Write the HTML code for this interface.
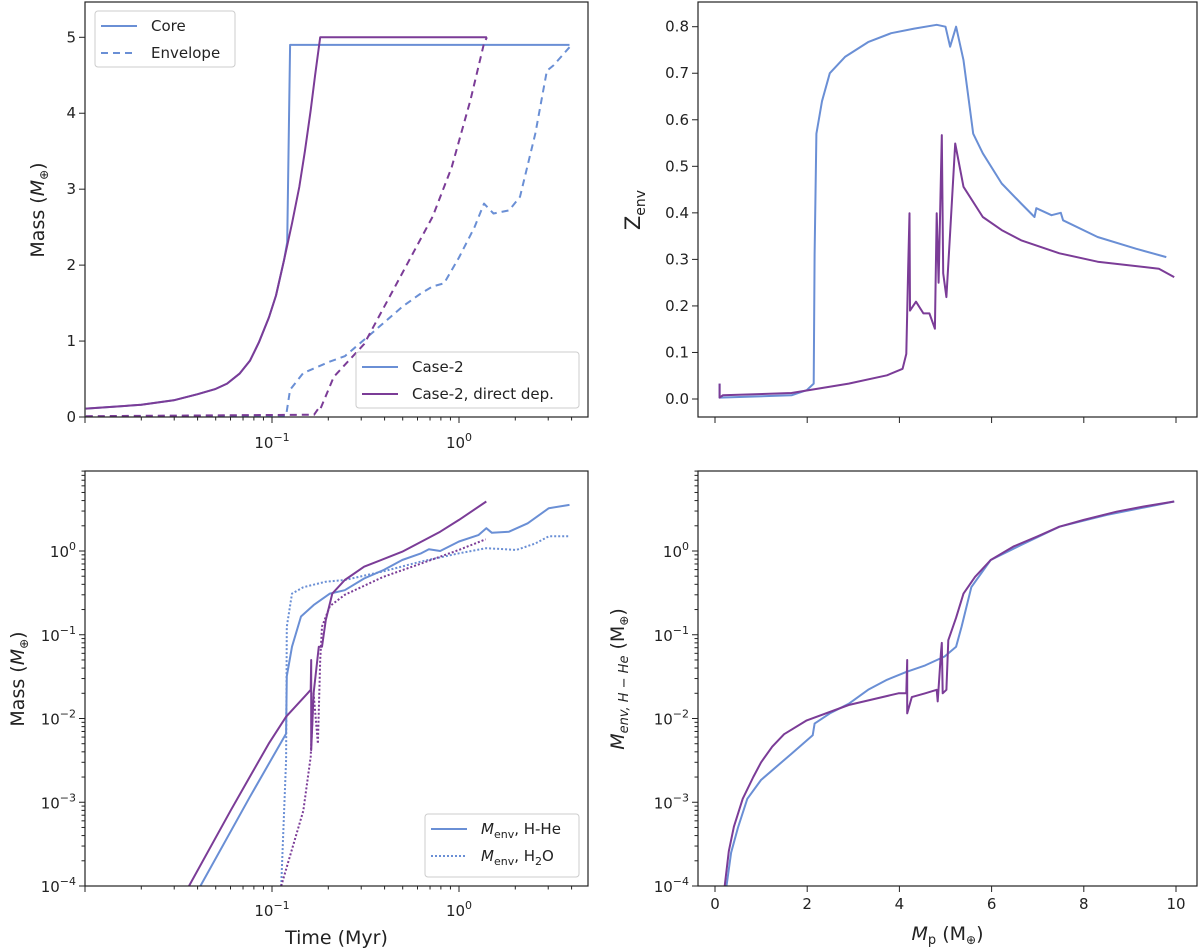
<!DOCTYPE html>
<html><head><meta charset="utf-8"><style>
body{margin:0;background:#fff}
svg{display:block;font-family:"DejaVu Sans","Liberation Sans",sans-serif}
</style></head><body>
<svg id="fig" width="1200" height="951" viewBox="0 0 1200 951" xmlns="http://www.w3.org/2000/svg"></svg>
<script>
// ---- data ----
const coreC2T=[0.0101,0.02,0.0298,0.04,0.05,0.0575,0.067,0.0762,0.085,0.0963,0.105,0.116,0.1206,0.125,3.9];
const coreC2M=[0.11,0.16,0.22,0.30,0.37,0.44,0.57,0.74,0.98,1.31,1.6,2.07,2.3,4.9,4.9];
const coreDDT=[0.0101,0.02,0.0298,0.04,0.05,0.0575,0.067,0.0762,0.085,0.0963,0.105,0.116,0.128,0.140,0.15,0.161,0.17,0.181,1.41];
const coreDDM=[0.11,0.16,0.22,0.30,0.37,0.44,0.57,0.74,0.98,1.31,1.6,2.07,2.55,3.03,3.5,4.04,4.5,5.0,5.0];
const envC2T=[0.0101,0.119,0.125,0.147,0.204,0.245,0.326,0.496,0.628,0.723,0.832,1.0,1.21,1.36,1.53,1.85,2.12,2.56,2.95,3.2,3.9];
const envC2M=[0,0.02,0.36,0.58,0.73,0.8,1.06,1.45,1.63,1.72,1.76,2.1,2.5,2.81,2.68,2.72,2.9,3.73,4.56,4.63,4.87];
const envDDT=[0.0101,0.168,0.178,0.181,0.214,0.311,0.496,0.723,0.914,1.15,1.36,1.41];
const envDDM=[0.01,0.03,0.12,0.1,0.53,0.96,1.89,2.64,3.29,4.17,4.92,5.0];

const zC2X=[0.1,0.1,1.66,1.99,2.14,2.16,2.2,2.32,2.49,2.82,3.32,3.82,4.32,4.81,5.0,5.1,5.23,5.39,5.6,5.81,6.22,6.64,6.93,6.97,7.3,7.5,7.55,8.3,9.13,9.79];
const zC2Y=[0.033,0.003,0.008,0.019,0.033,0.31,0.57,0.64,0.70,0.735,0.767,0.786,0.796,0.804,0.80,0.757,0.80,0.728,0.57,0.528,0.463,0.42,0.391,0.41,0.395,0.40,0.384,0.348,0.323,0.305];
const zDDX=[0.1,0.1,0.17,1.66,2.9,3.73,4.07,4.15,4.19,4.22,4.23,4.36,4.52,4.65,4.77,4.81,4.85,4.92,4.95,5.02,5.1,5.21,5.39,5.81,6.22,6.64,7.47,8.3,9.63,9.96];
const zDDY=[0.033,0.003,0.008,0.013,0.033,0.051,0.065,0.097,0.284,0.399,0.19,0.209,0.184,0.184,0.151,0.399,0.25,0.567,0.27,0.219,0.356,0.549,0.456,0.391,0.363,0.341,0.313,0.295,0.28,0.262];

const hheC2T=[0.0414,0.076,0.119,0.12,0.128,0.143,0.167,0.204,0.245,0.311,0.393,0.497,0.628,0.69,0.793,1.0,1.27,1.4,1.5,1.85,2.33,3.02,3.9];
const hheC2M=[1e-4,1.15e-3,6.6e-3,0.032,0.072,0.165,0.226,0.31,0.34,0.47,0.59,0.78,0.94,1.05,1.0,1.3,1.55,1.87,1.65,1.7,2.14,3.24,3.55];
const hheDDT=[0.036,0.060,0.076,0.096,0.119,0.155,0.161,0.162,0.162,0.167,0.178,0.185,0.194,0.21,0.245,0.311,0.497,0.793,1.0,1.4];
const hheDDM=[1e-4,7.9e-4,2.0e-3,5e-3,0.0105,0.02,0.022,0.05,0.0042,0.02,0.072,0.072,0.15,0.31,0.45,0.65,0.98,1.7,2.35,3.9];
const h2oC2T=[0.112,0.119,0.12,0.128,0.147,0.194,0.245,0.393,0.628,1.0,1.4,2.03,2.56,3.02,3.9];
const h2oC2M=[1e-4,3.2e-3,0.125,0.31,0.37,0.43,0.45,0.57,0.75,0.94,1.08,1.03,1.23,1.5,1.5];
const h2oDDT=[0.112,0.147,0.161,0.167,0.176,0.181,0.185,0.204,0.245,0.393,0.628,1.0,1.39];
const h2oDDM=[1e-4,7.9e-4,3.5e-3,0.02,0.005,0.05,0.125,0.22,0.3,0.49,0.71,1.03,1.38];

const mpC2X=[0.25,0.35,0.5,0.7,1.0,1.66,2.12,2.16,2.49,2.9,3.32,3.73,4.15,4.56,4.98,5.23,5.35,5.56,5.98,6.64,7.47,8.5,9.96];
const mpC2Y=[1e-4,2.5e-4,5e-4,1.1e-3,1.85e-3,3.8e-3,6.3e-3,8.7e-3,0.0115,0.015,0.022,0.029,0.036,0.043,0.055,0.072,0.125,0.37,0.78,1.18,1.95,2.7,3.9];
const mpDDX=[0.21,0.3,0.41,0.6,0.83,1.0,1.24,1.5,1.99,2.9,3.98,4.15,4.17,4.17,4.27,4.56,4.81,4.83,4.9,4.92,4.94,5.02,5.06,5.23,5.39,5.64,5.98,6.47,7.0,7.47,8.0,8.71,9.3,9.96];
const mpDDY=[1e-4,2.6e-4,5.1e-4,1.1e-3,2e-3,3e-3,4.6e-3,6.5e-3,9.5e-3,0.0145,0.02,0.02,0.05,0.0115,0.018,0.02,0.022,0.016,0.06,0.08,0.02,0.022,0.086,0.16,0.31,0.49,0.78,1.13,1.5,1.95,2.35,2.95,3.4,3.9];

const linTicksTL=[0,1,2,3,4,5];
const zTicks=[0.0,0.1,0.2,0.3,0.4,0.5,0.6,0.7,0.8];
const mpTicks=[0,2,4,6,8,10];
const logYTicks=[-4,-3,-2,-1,0];
const logXTicks=[-1,0];

// ---- drawing ----
const NS="http://www.w3.org/2000/svg";
const svg=document.getElementById('fig');
const BLUE="#6a8fd5", PURPLE="#7b3c97";
function el(tag,attrs,parent){const e=document.createElementNS(NS,tag);for(const k in attrs)e.setAttribute(k,attrs[k]);(parent||svg).appendChild(e);return e;}
function txt(s,x,y,attrs,parent){const e=el('text',Object.assign({x:x,y:y,'font-size':15,fill:'#222'},attrs||{}),parent);e.innerHTML=s;return e;}
function linScale(d0,d1,r0,r1){return v=>r0+(v-d0)/(d1-d0)*(r1-r0);}
function logScale(d0,d1,r0,r1){return v=>r0+(Math.log10(v)-d0)/(d1-d0)*(r1-r0);}

const L1=85,R1=588,L2=698,R2=1197,T1=2,B1=417,T2=471,B2=886;
const xLogL=logScale(-1-(272-85)/187,(588-459)/187,L1,R1);
const xLinR=linScale(0,10,715,1176);
const yTL=linScale(0,5,417,37.3);
const yTR=linScale(0,0.8,399,26.7);
const yLog=logScale(-4,0,886,551);

function frame(name,l,t,r,b){
  const g=el('g',{});
  const cp=el('clipPath',{id:'cp-'+name},g);el('rect',{x:l,y:t,width:r-l,height:b-t},cp);
  return g;
}
function border(g,l,t,r,b){el('rect',{x:l,y:t,width:r-l,height:b-t,fill:'none',stroke:'#222','stroke-width':1.2},g);}
function line(g,name,xs,ys,sx,sy,color,dash,clip){
  let d='';for(let i=0;i<xs.length;i++){d+=(i?'L':'M')+sx(xs[i]).toFixed(1)+','+sy(ys[i]).toFixed(1);}
  const p=el('path',{d:d,fill:'none',stroke:color,'stroke-width':2,'stroke-linejoin':'round','clip-path':'url(#cp-'+clip+')'},g);
  if(dash)p.setAttribute('stroke-dasharray',dash);
  
  
}
function xLogTicks(g,b,labels,labY){
  for(let dec=-2;dec<=0;dec++)for(let m=1;m<10;m++){const v=m*Math.pow(10,dec);const x=xLogL(v);if(x<L1-0.5||x>R1+0.5)continue;
    el('line',{x1:x,y1:b,x2:x,y2:b+(m==1?6:3.5),stroke:'#222','stroke-width':1},g);}
  if(labels)logXTicks.forEach(e=>{txt('10<tspan dy="-7" font-size="11">'+(e<0?'−1':'0')+'</tspan>',xLogL(Math.pow(10,e)),labY,{'text-anchor':'middle'},g);});
}
function yLogTicks(g,l){
  for(let dec=-4;dec<=0;dec++)for(let m=1;m<10;m++){const v=m*Math.pow(10,dec);const y=yLog(v);if(y<T2)continue;
    el('line',{x1:l,y1:y,x2:l-(m==1?6:3.5),y2:y,stroke:'#222','stroke-width':1},g);}
  logYTicks.forEach(e=>{txt('10<tspan dy="-7" font-size="11">'+(e<0?'−'+(-e):'0')+'</tspan>',l-9,yLog(Math.pow(10,e))+6,{'text-anchor':'end'},g);});
}
function legend(g,name,x,y,w,h,items){
  const lg=el('g',{},g);
  el('rect',{x:x,y:y,width:w,height:h,rx:3,fill:'#fff','fill-opacity':0.85,stroke:'#ccc'},lg);
  items.forEach((it,i)=>{const yy=y+15+i*27;
    const ln=el('line',{x1:x+6,y1:yy,x2:x+42,y2:yy,stroke:it.c,'stroke-width':2},lg);if(it.d)ln.setAttribute('stroke-dasharray',it.d);
    txt(it.t,x+56,yy+5,{},lg);});
}

// Panel TL
let g=frame('panel-mass-vs-time',L1,T1,R1,B1);
line(g,'core-case2',coreC2T,coreC2M,xLogL,yTL,BLUE,null,'panel-mass-vs-time');
line(g,'envelope-case2',envC2T,envC2M,xLogL,yTL,BLUE,'7,5','panel-mass-vs-time');
line(g,'core-direct-dep',coreDDT,coreDDM,xLogL,yTL,PURPLE,null,'panel-mass-vs-time');
line(g,'envelope-direct-dep',envDDT,envDDM,xLogL,yTL,PURPLE,'7,5','panel-mass-vs-time');
border(g,L1,T1,R1,B1);
linTicksTL.forEach(v=>{const y=yTL(v);el('line',{x1:L1,y1:y,x2:L1-6,y2:y,stroke:'#222'},g);txt(String(v),L1-9,y+5,{'text-anchor':'end'},g);});
xLogTicks(g,B1,true,448);
txt('Mass (<tspan font-style="italic">M</tspan><tspan font-size="12" dy="4">⊕</tspan><tspan dy="-4">)</tspan>',0,0,{'font-size':19,transform:'translate(44,210) rotate(-90)','text-anchor':'middle'},g);
legend(g,'legend-core-envelope',95,11,140,56,[{t:'Core',c:BLUE},{t:'Envelope',c:BLUE,d:'7,5'}]);
legend(g,'legend-cases',356,352,223,56,[{t:'Case-2',c:BLUE},{t:'Case-2, direct dep.',c:PURPLE}]);

// Panel TR
g=frame('panel-zenv',L2,T1,R2,B1);
line(g,'zenv-case2',zC2X,zC2Y,xLinR,yTR,BLUE,null,'panel-zenv');
line(g,'zenv-direct-dep',zDDX,zDDY,xLinR,yTR,PURPLE,null,'panel-zenv');
border(g,L2,T1,R2,B1);
zTicks.forEach(v=>{const y=yTR(v);el('line',{x1:L2,y1:y,x2:L2-6,y2:y,stroke:'#222'},g);txt(v.toFixed(1),L2-9,y+5,{'text-anchor':'end'},g);});
mpTicks.forEach(v=>{const x=xLinR(v);el('line',{x1:x,y1:B1,x2:x,y2:B1+6,stroke:'#222'},g);});
txt('Z<tspan font-size="14" dy="5">env</tspan>',0,0,{'font-size':21,transform:'translate(640,210) rotate(-90)','text-anchor':'middle'},g);

// Panel BL
g=frame('panel-env-mass-vs-time',L1,T2,R1,B2);
line(g,'hhe-case2',hheC2T,hheC2M,xLogL,yLog,BLUE,null,'panel-env-mass-vs-time');
line(g,'h2o-case2',h2oC2T,h2oC2M,xLogL,yLog,BLUE,'2,2','panel-env-mass-vs-time');
line(g,'hhe-direct-dep',hheDDT,hheDDM,xLogL,yLog,PURPLE,null,'panel-env-mass-vs-time');
line(g,'h2o-direct-dep',h2oDDT,h2oDDM,xLogL,yLog,PURPLE,'2,2','panel-env-mass-vs-time');
border(g,L1,T2,R1,B2);
yLogTicks(g,L1);
xLogTicks(g,B2,true,916);
txt('Time (Myr)',(L1+R1)/2,944,{'font-size':19,'text-anchor':'middle'},g);
txt('Mass (<tspan font-style="italic">M</tspan><tspan font-size="12" dy="4">⊕</tspan><tspan dy="-4">)</tspan>',0,0,{'font-size':19,transform:'translate(24,679) rotate(-90)','text-anchor':'middle'},g);
legend(g,'legend-components',425,814,154,63,[{t:'<tspan font-style="italic">M</tspan><tspan font-size="11" dy="4">env</tspan><tspan dy="-4">, H-He</tspan>',c:BLUE},{t:'<tspan font-style="italic">M</tspan><tspan font-size="11" dy="4">env</tspan><tspan dy="-4">, H</tspan><tspan font-size="11" dy="4">2</tspan><tspan dy="-4">O</tspan>',c:BLUE,d:'2,2'}]);

// Panel BR
g=frame('panel-env-mass-vs-mp',L2,T2,R2,B2);
line(g,'mp-case2',mpC2X,mpC2Y,xLinR,yLog,BLUE,null,'panel-env-mass-vs-mp');
line(g,'mp-direct-dep',mpDDX,mpDDY,xLinR,yLog,PURPLE,null,'panel-env-mass-vs-mp');
border(g,L2,T2,R2,B2);
yLogTicks(g,L2);
mpTicks.forEach(v=>{const x=xLinR(v);el('line',{x1:x,y1:B2,x2:x,y2:B2+6,stroke:'#222'},g);txt(String(v),x,909,{'text-anchor':'middle'},g);});
txt('<tspan font-style="italic">M</tspan><tspan font-size="13" dy="4">p</tspan><tspan dy="-4"> (M</tspan><tspan font-size="12" dy="4">⊕</tspan><tspan dy="-4">)</tspan>',(L2+R2)/2,940,{'font-size':19,'text-anchor':'middle'},g);
txt('<tspan font-style="italic">M</tspan><tspan font-size="13" font-style="italic" dy="4">env, H − He</tspan><tspan dy="-4"> (M</tspan><tspan font-size="12" dy="4">⊕</tspan><tspan dy="-4">)</tspan>',0,0,{'font-size':19,transform:'translate(624,679) rotate(-90)','text-anchor':'middle'},g);
</script>
</body></html>
